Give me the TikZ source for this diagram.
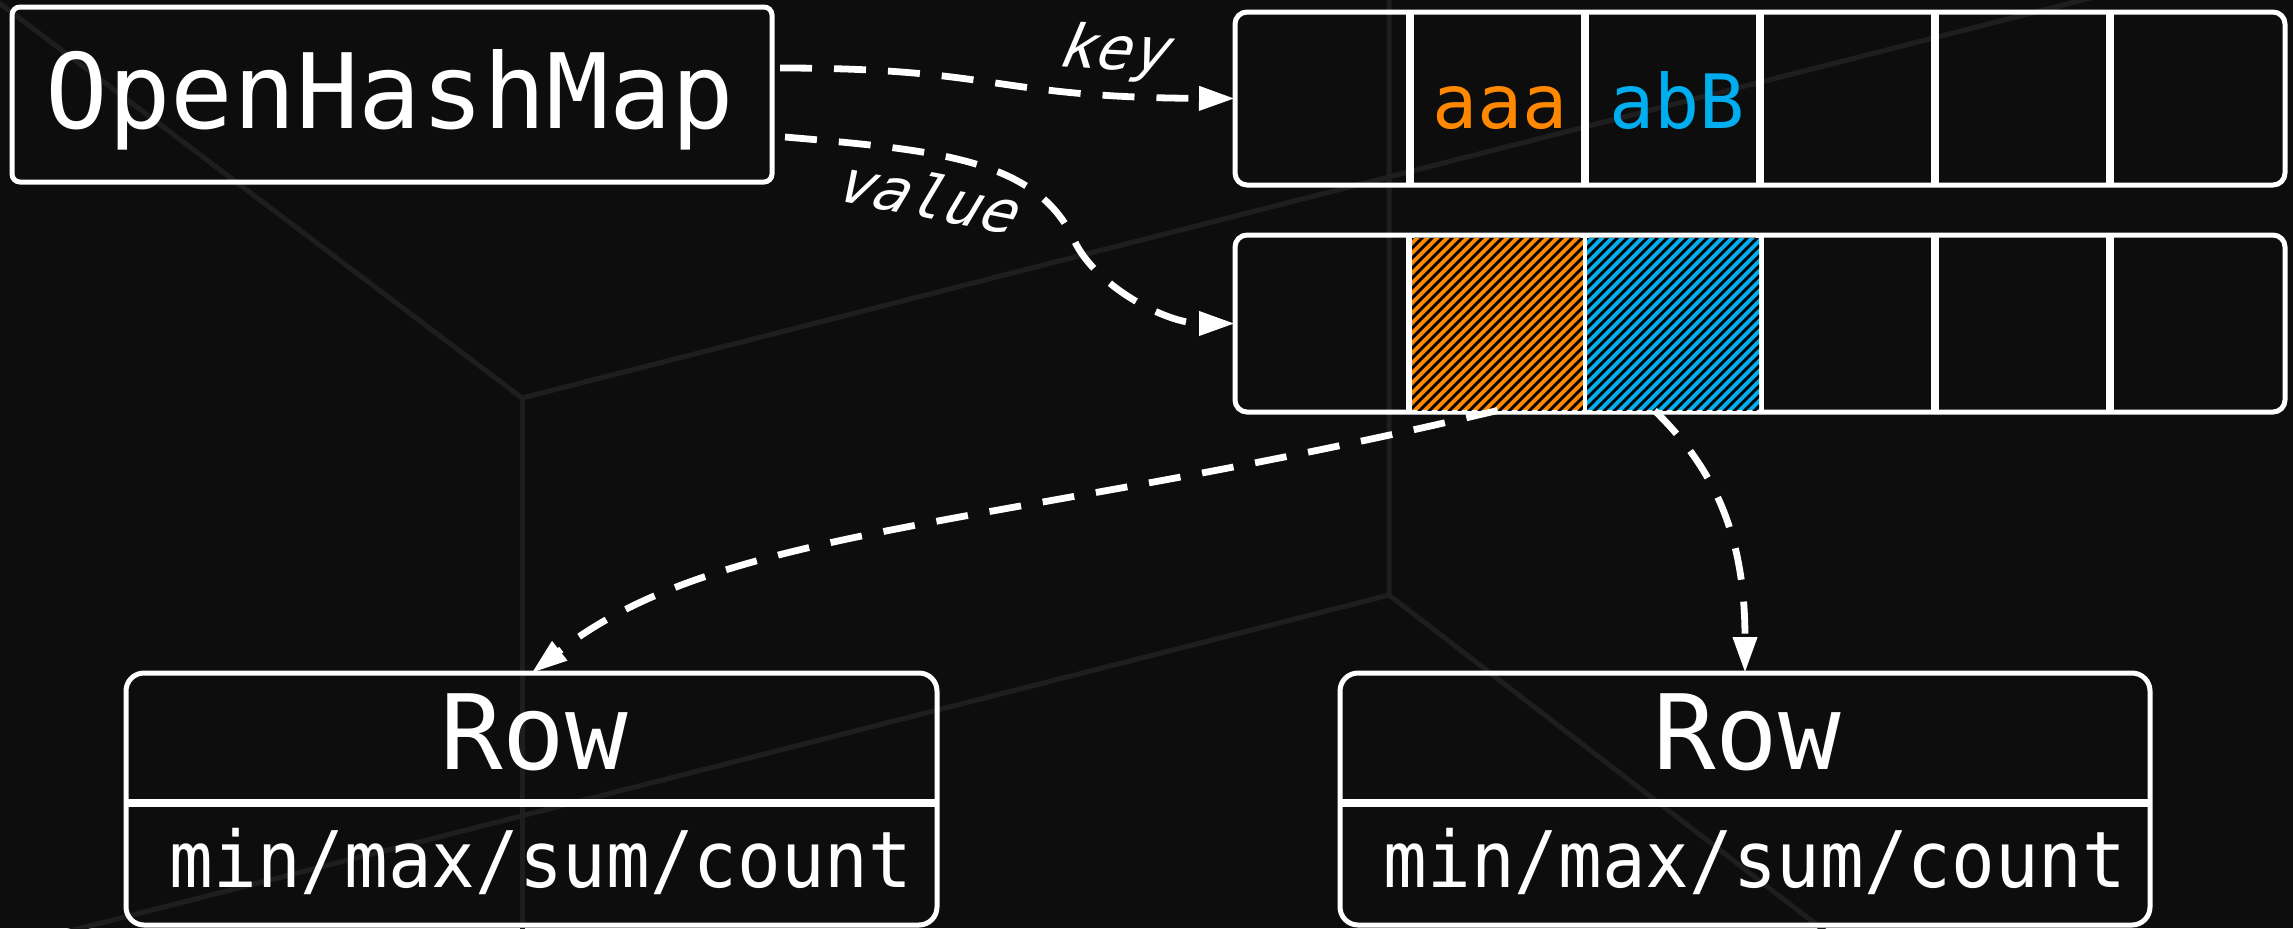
\documentclass[tikz,border=0pt]{standalone}
\usepackage{fontspec}
\setmainfont{DejaVu Sans Mono}
\setmonofont{DejaVu Sans Mono}
\newfontfamily\condfont[FakeStretch=0.93]{DejaVu Sans Mono}
\newfontfamily\slantfont[FakeSlant=0.36]{DejaVu Sans Mono}
\usetikzlibrary{arrows.meta}
\definecolor{bgc}{HTML}{0D0D0D}
\definecolor{gridc}{HTML}{1E1E1E}
\definecolor{orng}{HTML}{FF8800}
\definecolor{bleu}{HTML}{00AEEF}
\begin{document}
\begin{tikzpicture}[x=0.5pt,y=-0.5pt,
  outline/.style={draw=white, line width=2.5pt, inner sep=0pt, outer sep=0pt},
  cellbox/.style={minimum width=87.5pt, minimum height=87pt, inner sep=0pt, outer sep=0pt},
  divline/.style={draw=white, line width=3.6pt},
  bgline/.style={draw=gridc, line width=2.5pt},
  conn/.style={draw=white, line width=3.4pt, dash pattern=on 16pt off 11pt,
    -{Triangle[length=18pt,width=11.5pt]}},
  bigtxt/.style={text=white, inner sep=0pt, anchor=base, font=\fontsize{52}{60}\selectfont},
  midtxt/.style={text=white, inner sep=0pt, anchor=base, font=\condfont\fontsize{39}{44}\selectfont},
  celltxt/.style={inner sep=0pt, anchor=base, font=\fontsize{37.5}{44}\selectfont},
  lbltxt/.style={text=white, inner sep=0pt, anchor=base, font=\slantfont\fontsize{30}{36}\selectfont},
  hatchln/.style={draw=black, line width=1.4pt}
]
% canvas
\useasboundingbox (0,0) rectangle (2293,928);
\fill[bgc] (0,0) rectangle (2293,928);
% faint background wireframe
\begin{scope}
  \clip (0,0) rectangle (2293,928);
  \draw[bgline] (-10,-4) -- (522,398) -- (2110,-7);
  \draw[bgline] (522,398) -- (522,940);
  \draw[bgline] (1389,-10) -- (1389,595) -- (50,936);
  \draw[bgline] (1389,595) -- (1830,935);
\end{scope}

% OpenHashMap box
\node[outline, rounded corners=4pt, minimum width=380pt, minimum height=87.5pt] (ohm) at (392,94.5) {};
\node[bigtxt] (ohmt) at (390,128) {OpenHashMap};

% key array
\node[outline, rounded corners=6pt, minimum width=525pt, minimum height=86.5pt] (keys) at (1760,98.5) {};
\foreach \i in {1,...,6} \node[cellbox] (k\i) at ({1147.5+175*\i},98.5) {};
\foreach \i in {1,...,5} {
  \draw[divline] (k\i.north east) -- (k\i.south east);
}
% value array
\foreach \i in {1,...,6} \node[cellbox] (v\i) at ({1147.5+175*\i},323.5) {};
\node[outline, rounded corners=6pt, minimum width=525pt, minimum height=88.5pt] (vals) at (1760,323.5) {};
\foreach \i in {1,...,5} {
  \draw[divline] (v\i.north east) -- (v\i.south east);
}
% hatched cells
\begin{scope}
  \clip (1412,238) rectangle (1584,410);
  \fill[orng] (1412,238) rectangle (1584,410);
  \foreach \xx in {1220,1230,...,1600} \draw[hatchln] (\xx,420) -- ++(190,-190);
\end{scope}
\begin{scope}
  \clip (1587,238) rectangle (1759,410);
  \fill[bleu] (1587,238) rectangle (1759,410);
  \foreach \xx in {1395,1405,...,1775} \draw[hatchln] (\xx,420) -- ++(190,-190);
\end{scope}
\draw[draw=white, line width=1.6pt] (v2.north east) -- (v2.south east);

\node[celltxt, text=orng] (aaa) at (1500,128) {aaa};
\node[celltxt, text=bleu] (abb) at (1677,128) {abB};

% Row boxes
\node[outline, rounded corners=9pt, minimum width=405.5pt, minimum height=126pt] (row1) at (531.5,799) {};
\draw[draw=white, line width=4pt] ([yshift=-2pt]row1.west) -- ([yshift=-2pt]row1.east);
\node[bigtxt] (r1t) at (534,769) {Row};
\node[midtxt] (r1f) at (541,887) {min/max/sum/count};

\node[outline, rounded corners=9pt, minimum width=405pt, minimum height=126pt] (row2) at (1745,799) {};
\draw[draw=white, line width=4pt] ([yshift=-2pt]row2.west) -- ([yshift=-2pt]row2.east);
\node[bigtxt] (r2t) at (1747,769) {Row};
\node[midtxt] (r2f) at (1755,887) {min/max/sum/count};

% connectors
\coordinate (kstart) at ([xshift=4pt,yshift=13.25pt]ohm.east);
\coordinate (vstart) at ([xshift=6.5pt,yshift=-21.25pt]ohm.east);
\coordinate (vmid) at (1074,240);
\draw[conn] (kstart) .. controls +(220,0) and +(-243,-1) .. (keys.west);
\draw[conn] (vstart) .. controls +(150,13) and +(-37.4,-81.5) .. (vmid)
  .. controls +(20.8,45.3) and +(-70,0) .. (vals.west);
\draw[conn] (v2.south) .. controls +(-497,118) and +(188,-148) .. (row1.north);
\coordinate (v3out) at ([xshift=-9pt]v3.south);
\draw[conn] (v3out) .. controls +(65,63) and +(0,-130) .. (row2.north);

% labels
\node[lbltxt, rotate=-3] (keylbl) at (1110,69) {key};
\node[lbltxt, rotate=-11] (vallbl) at (920,217) {value};
\end{tikzpicture}
\end{document}
